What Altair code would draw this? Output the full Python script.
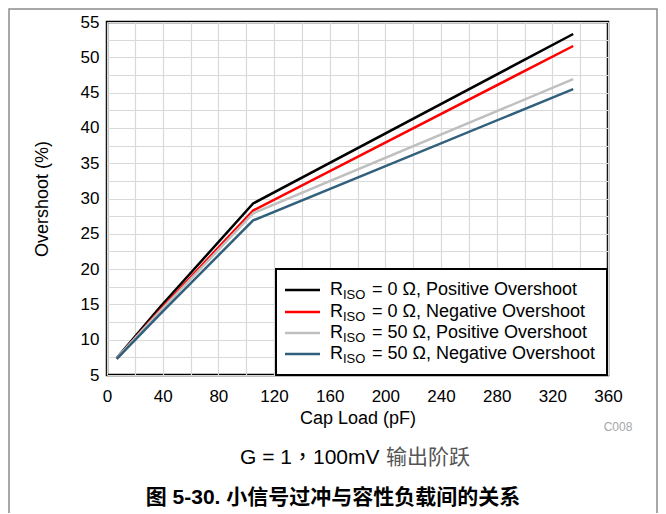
import altair as alt
import pandas as pd

# ---- data ----
cap_pf = [7, 38, 105, 335]
pos_0 = [7.4, 14.6, 29.3, 53.3]
neg_0 = [7.3, 14.2, 28.3, 51.6]
pos_50 = [7.4, 14.0, 27.9, 46.9]
neg_50 = [7.3, 13.6, 26.9, 45.5]

series_keys = ["s1", "s2", "s3", "s4"]
series_vals = [pos_0, neg_0, pos_50, neg_50]
series_rest = ["= 0 Ω, Positive Overshoot", "= 0 Ω, Negative Overshoot",
               "= 50 Ω, Positive Overshoot", "= 50 Ω, Negative Overshoot"]
series_colors = ["#000000", "#ff0000", "#bfbfbf", "#31607c"]

x_grid = list(range(0, 361, 20))
y_grid = [5 + 2.5 * i for i in range(21)]

FONT = "Liberation Sans"
CJK = "Liberation Sans, Noto Sans CJK SC"
CJK_TC = "Liberation Sans, Noto Sans CJK TC"

rows = []
for k, vals in zip(series_keys, series_vals):
    for c, v in zip(cap_pf, vals):
        rows.append({"cap": c, "val": v, "series": k})
df = pd.DataFrame(rows)

W, H = 501, 353

lines = alt.Chart(df).mark_line(strokeWidth=2.5).encode(
    x=alt.X("cap:Q", scale=alt.Scale(domain=[0, 360], nice=False),
            axis=alt.Axis(values=x_grid, title="Cap Load (pF)",
                          labelExpr="datum.value % 40 == 0 ? datum.label : ''",
                          ticks=False, domain=False, labelFontSize=17, labelPadding=13,
                          labelFlush=False,
                          titleFontSize=18, titleFontWeight="normal", titlePadding=5,
                          labelColor="black", titleColor="black",
                          gridColor="#d9d9d9", gridWidth=1.2)),
    y=alt.Y("val:Q", scale=alt.Scale(domain=[5, 55], nice=False),
            axis=alt.Axis(values=y_grid, title="Overshoot (%)",
                          labelExpr="datum.value % 5 == 0 ? datum.label : ''",
                          ticks=False, domain=False, labelFontSize=17, labelPadding=8,
                          labelFlush=False,
                          titleFontSize=18, titleFontWeight="normal", titlePadding=29,
                          labelColor="black", titleColor="black",
                          gridColor="#d9d9d9", gridWidth=1.2)),
    color=alt.Color("series:N", scale=alt.Scale(domain=series_keys, range=series_colors),
                    legend=None),
    order=alt.Order("cap:Q"),
)

one = pd.DataFrame({"a": [0]})
layers = [lines]

# legend box
layers.append(alt.Chart(one).mark_rect(fill="white", stroke="black", strokeWidth=2).encode(
    x=alt.value(169), x2=alt.value(500), y=alt.value(247), y2=alt.value(353)))

row_y = [268, 290, 311, 332]
for yy, col, rest in zip(row_y, series_colors, series_rest):
    layers.append(alt.Chart(one).mark_rule(strokeWidth=2.5, color=col).encode(
        x=alt.value(178), x2=alt.value(213), y=alt.value(yy)))
    layers.append(alt.Chart(one).mark_text(align="left", baseline="middle", font=FONT,
                                           fontSize=18, color="black").encode(
        x=alt.value(223), y=alt.value(yy), text=alt.value("R")))
    layers.append(alt.Chart(one).mark_text(align="left", baseline="middle", font=FONT,
                                           fontSize=13, color="black").encode(
        x=alt.value(236), y=alt.value(yy + 5), text=alt.value("ISO")))
    layers.append(alt.Chart(one).mark_text(align="left", baseline="middle", font=FONT,
                                           fontSize=18, color="black").encode(
        x=alt.value(265), y=alt.value(yy), text=alt.value(rest)))

# outer gray frame (open at the bottom of the image)
layers.append(alt.Chart(one).mark_rect(fill=None, stroke="#8c8c8c", strokeWidth=1.5).encode(
    x=alt.value(-98), x2=alt.value(550), y=alt.value(-13), y2=alt.value(520)))

# C008 label
layers.append(alt.Chart(one).mark_text(align="center", baseline="middle", font=FONT,
                                       fontSize=12, color="#a6a6a6").encode(
    x=alt.value(511), y=alt.value(405), text=alt.value("C008")))

# condition caption
layers.append(alt.Chart(one).mark_text(align="left", baseline="middle", font=CJK_TC,
                                       fontSize=21, color="black").encode(
    x=alt.value(133), y=alt.value(436), text=alt.value("G = 1，100mV")))
layers.append(alt.Chart(one).mark_text(align="left", baseline="middle", font=CJK,
                                       fontSize=21, color="#555555").encode(
    x=alt.value(279), y=alt.value(436), text=alt.value("输出阶跃")))

# figure caption
layers.append(alt.Chart(one).mark_text(align="center", baseline="middle", font=CJK,
                                       fontSize=21, fontWeight="bold", color="black").encode(
    x=alt.value(226), y=alt.value(476), text=alt.value("图 5-30. 小信号过冲与容性负载间的关系")))

chart = alt.layer(*layers).properties(
    width=W, height=H,
    autosize=alt.AutoSizeParams(type="none"),
    padding={"left": 99, "top": 14, "right": 50, "bottom": 138},
    background="white",
).configure_view(
    stroke="black", strokeWidth=2.5
).configure_axis(
    labelFont=FONT, titleFont=FONT
)

chart.save("out.html", embed_options={"renderer": "svg", "actions": False})
